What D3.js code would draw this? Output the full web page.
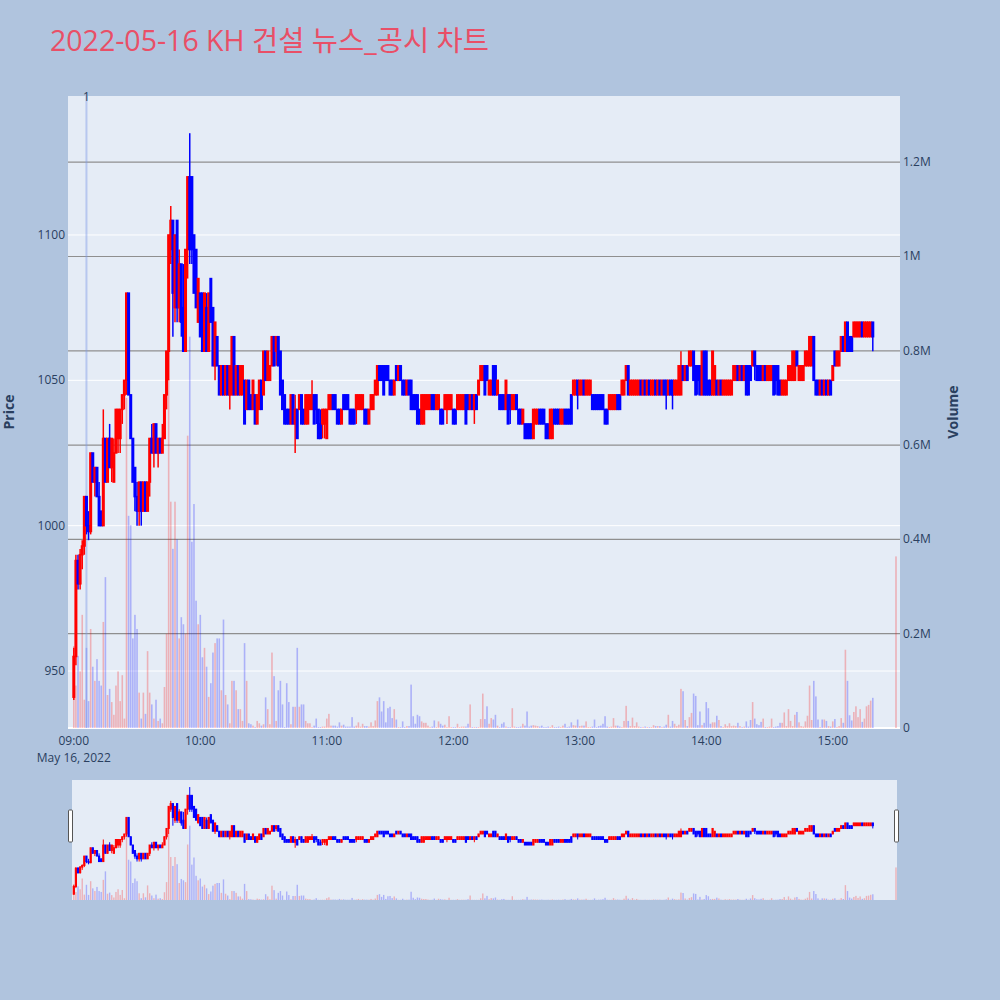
<!DOCTYPE html>
<html><head><meta charset="utf-8">
<script src="https://cdn.jsdelivr.net/npm/d3@7"></script>
<style>
body{margin:0;background:#b0c4de;}
svg{display:block;font-family:"Open Sans","Noto Sans CJK KR",sans-serif;}
</style>
</head><body>
<svg id="chart" width="1000" height="1000"></svg>
<script>
// ---------------- data ----------------
const titleText = "2022-05-16 KH 건설 뉴스_공시 차트";
const tradeDate = "2022-05-16";
const sessionStart = "09:00";          // first 1-minute candle; one candle per minute
const closingAuctionTime = "15:30";    // time of the last (closing auction) candle
const opens = [
941,955,988,980,990,993,1010,1000,998,1025,
1015,1020,1010,1005,1000,1030,1015,1030,1020,1015,
1025,1030,1030,1040,1045,1050,1080,1045,1030,1020,
1010,1005,1015,1005,1015,1005,1015,1030,1025,1035,
1025,1030,1025,1030,1045,1060,1095,1105,1075,1105,
1075,1090,1075,1060,1095,1120,1120,1100,1095,1070,
1080,1080,1060,1075,1060,1085,1075,1055,1065,1055,
1045,1055,1045,1055,1045,1045,1065,1045,1055,1045,
1045,1050,1040,1050,1045,1040,1045,1035,1040,1050,
1045,1060,1050,1050,1055,1065,1060,1065,1060,1050,
1045,1040,1040,1035,1045,1035,1040,1040,1045,1040,
1035,1035,1040,1040,1045,1045,1040,1035,1035,1035,
1030,1040,1040,1045,1045,1040,1040,1035,1045,1045,
1045,1040,1040,1040,1040,1040,1040,1040,1040,1040,
1035,1040,1040,1045,1045,1055,1055,1055,1055,1055,
1050,1050,1045,1055,1050,1055,1050,1050,1045,1050,
1050,1045,1045,1045,1040,1035,1035,1040,1040,1040,
1045,1045,1040,1040,1040,1040,1040,1040,1040,1040,
1040,1040,1040,1040,1040,1040,1045,1045,1040,1045,
1040,1045,1045,1050,1050,1055,1055,1045,1045,1055,
1055,1045,1045,1045,1045,1040,1045,1045,1040,1040,
1045,1040,1040,1035,1035,1035,1035,1035,1030,1035,
1035,1040,1040,1040,1035,1035,1030,1030,1040,1040,
1040,1035,1035,1040,1040,1040,1045,1045,1045,1050,
1045,1045,1050,1045,1045,1045,1045,1045,1045,1045,
1045,1045,1040,1040,1040,1040,1040,1040,1045,1045,
1045,1045,1050,1055,1045,1045,1045,1045,1045,1050,
1045,1050,1045,1050,1045,1045,1050,1045,1050,1045,
1050,1050,1045,1050,1050,1045,1045,1045,1045,1055,
1050,1055,1055,1055,1060,1055,1055,1055,1045,1060,
1060,1050,1050,1045,1045,1050,1045,1050,1045,1045,
1045,1045,1045,1050,1050,1055,1050,1055,1050,1055,
1055,1055,1055,1060,1055,1055,1055,1050,1055,1050,
1050,1050,1055,1055,1055,1050,1045,1045,1045,1050,
1050,1050,1050,1060,1050,1050,1050,1055,1055,1055,
1055,1065,1050,1050,1045,1050,1045,1050,1045,1050,
1050,1060,1055,1055,1060,1065,1060,1070,1065,1065,
1065,1065,1065,1065,1070,1065,1065,1065,1065,1070,
1080];
const highs = [
958,990,990,992,995,1010,1010,1005,1025,1025,
1020,1020,1015,1005,1040,1030,1030,1035,1030,1030,
1040,1040,1040,1045,1050,1080,1080,1045,1030,1020,
1015,1015,1015,1015,1015,1015,1030,1035,1035,1035,
1030,1030,1035,1045,1060,1100,1110,1105,1100,1105,
1095,1090,1090,1095,1120,1135,1120,1100,1095,1085,
1080,1080,1080,1080,1080,1085,1075,1070,1065,1055,
1055,1055,1055,1055,1055,1065,1065,1055,1055,1055,
1055,1050,1050,1050,1045,1050,1045,1045,1050,1050,
1060,1060,1060,1055,1065,1065,1065,1065,1060,1050,
1045,1040,1040,1045,1045,1045,1040,1045,1045,1040,
1045,1045,1045,1050,1045,1045,1040,1040,1040,1040,
1040,1045,1045,1045,1045,1040,1040,1040,1045,1045,
1045,1040,1040,1040,1045,1045,1045,1045,1040,1040,
1040,1045,1045,1050,1055,1055,1055,1055,1055,1055,
1050,1050,1050,1055,1055,1055,1050,1050,1050,1050,
1050,1045,1045,1045,1040,1045,1045,1045,1045,1045,
1045,1045,1045,1045,1040,1040,1045,1045,1045,1045,
1040,1040,1045,1045,1045,1045,1045,1045,1045,1045,
1045,1045,1050,1055,1055,1055,1055,1050,1050,1055,
1055,1050,1045,1045,1045,1050,1045,1045,1045,1045,
1045,1040,1040,1040,1035,1035,1035,1035,1040,1040,
1040,1040,1040,1040,1035,1035,1040,1040,1040,1040,
1040,1040,1040,1040,1040,1040,1045,1050,1050,1050,
1050,1050,1050,1050,1050,1050,1045,1045,1045,1045,
1045,1045,1040,1040,1045,1045,1045,1045,1045,1045,
1050,1050,1055,1055,1050,1050,1050,1050,1050,1050,
1050,1050,1050,1050,1050,1050,1050,1050,1050,1050,
1050,1050,1050,1050,1050,1050,1050,1055,1060,1055,
1055,1055,1060,1060,1060,1055,1055,1055,1060,1060,
1060,1050,1050,1060,1055,1050,1050,1050,1050,1050,
1050,1050,1050,1055,1055,1055,1055,1055,1055,1055,
1055,1055,1060,1060,1055,1055,1055,1055,1055,1055,
1055,1055,1055,1055,1055,1050,1050,1050,1050,1055,
1055,1060,1060,1060,1055,1055,1055,1060,1060,1065,
1065,1065,1050,1050,1050,1050,1050,1050,1050,1050,
1055,1060,1060,1060,1065,1065,1070,1070,1065,1065,
1070,1070,1070,1070,1070,1070,1070,1070,1070,1070,
1080];
const lows = [
940,952,978,978,985,990,997,995,997,1015,
1010,1010,1000,1000,1000,1015,1015,1020,1015,1015,
1025,1025,1025,1035,1040,1045,1045,1030,1015,1005,
1000,1000,1000,1005,1005,1005,1010,1025,1020,1025,
1020,1025,1025,1030,1040,1050,1090,1065,1070,1070,
1070,1065,1060,1060,1085,1090,1090,1080,1075,1070,
1065,1060,1060,1060,1060,1070,1055,1050,1055,1045,
1045,1045,1045,1045,1040,1045,1045,1045,1045,1045,
1045,1035,1040,1040,1040,1040,1035,1035,1040,1040,
1045,1050,1050,1050,1055,1055,1055,1055,1045,1040,
1035,1035,1035,1035,1035,1025,1030,1040,1035,1035,
1035,1035,1040,1040,1035,1035,1030,1030,1030,1030,
1030,1040,1040,1040,1040,1035,1035,1035,1040,1040,
1040,1035,1035,1035,1035,1040,1040,1040,1035,1035,
1035,1040,1040,1045,1045,1050,1050,1045,1050,1050,
1045,1045,1045,1050,1050,1050,1045,1045,1045,1045,
1040,1040,1040,1035,1035,1035,1035,1040,1040,1040,
1040,1040,1040,1040,1035,1035,1040,1035,1040,1040,
1035,1035,1040,1040,1040,1040,1035,1040,1040,1040,
1035,1040,1045,1050,1050,1045,1050,1045,1045,1045,
1045,1045,1040,1040,1040,1040,1035,1035,1040,1040,
1040,1035,1035,1035,1030,1030,1030,1030,1030,1035,
1035,1035,1035,1035,1030,1030,1030,1030,1035,1035,
1035,1035,1035,1035,1035,1035,1035,1045,1045,1040,
1045,1045,1045,1045,1045,1045,1040,1040,1040,1040,
1040,1040,1035,1035,1040,1040,1040,1040,1040,1040,
1045,1045,1050,1045,1045,1045,1045,1045,1045,1045,
1045,1045,1045,1045,1045,1045,1045,1045,1045,1045,
1045,1040,1045,1045,1040,1045,1045,1045,1045,1050,
1050,1050,1055,1055,1050,1045,1045,1045,1045,1045,
1045,1045,1045,1045,1045,1045,1045,1045,1045,1045,
1045,1045,1045,1050,1050,1050,1050,1050,1050,1045,
1045,1050,1055,1050,1050,1050,1050,1050,1050,1050,
1050,1050,1045,1045,1045,1045,1045,1045,1045,1050,
1050,1050,1050,1055,1050,1050,1050,1055,1055,1055,
1055,1050,1045,1045,1045,1045,1045,1045,1045,1045,
1050,1055,1055,1055,1060,1060,1060,1060,1060,1060,
1065,1065,1065,1065,1065,1065,1065,1065,1065,1060,
1080];
const closes = [
955,988,980,990,993,1010,1000,998,1025,1015,
1020,1010,1000,1000,1030,1015,1030,1020,1030,1025,
1040,1040,1040,1045,1050,1080,1045,1030,1015,1010,
1005,1015,1005,1015,1005,1015,1030,1025,1035,1025,
1030,1025,1030,1045,1060,1100,1105,1080,1100,1075,
1090,1070,1060,1095,1120,1095,1095,1080,1075,1085,
1065,1060,1080,1060,1080,1070,1055,1070,1055,1045,
1055,1045,1055,1045,1055,1065,1045,1055,1045,1055,
1055,1035,1050,1040,1040,1050,1035,1045,1050,1040,
1060,1050,1060,1055,1065,1055,1065,1055,1045,1040,
1035,1035,1035,1045,1035,1040,1030,1045,1035,1035,
1045,1045,1045,1045,1035,1040,1030,1030,1040,1040,
1040,1045,1045,1040,1040,1035,1035,1040,1040,1040,
1040,1035,1035,1035,1045,1045,1045,1045,1035,1035,
1040,1045,1045,1050,1055,1050,1050,1045,1050,1050,
1045,1045,1050,1050,1055,1050,1045,1045,1050,1045,
1040,1040,1040,1035,1035,1045,1045,1045,1045,1045,
1040,1040,1045,1045,1035,1035,1045,1045,1045,1045,
1035,1035,1045,1045,1045,1045,1035,1040,1045,1040,
1045,1040,1050,1055,1055,1045,1050,1050,1050,1045,
1045,1050,1040,1040,1040,1050,1035,1040,1045,1045,
1040,1035,1035,1040,1030,1030,1030,1030,1040,1040,
1040,1035,1035,1035,1030,1030,1040,1040,1035,1035,
1035,1040,1040,1035,1035,1035,1035,1050,1050,1045,
1050,1050,1045,1050,1050,1050,1040,1040,1040,1040,
1040,1040,1035,1035,1045,1045,1045,1045,1040,1040,
1050,1050,1055,1045,1050,1050,1050,1050,1050,1045,
1050,1045,1050,1045,1050,1050,1045,1050,1045,1050,
1045,1045,1050,1045,1045,1050,1050,1055,1055,1050,
1055,1050,1060,1060,1050,1045,1050,1045,1060,1045,
1045,1045,1045,1060,1055,1045,1050,1045,1050,1050,
1050,1050,1050,1055,1055,1050,1055,1050,1055,1045,
1045,1050,1060,1055,1050,1050,1050,1055,1050,1055,
1055,1055,1045,1050,1045,1045,1050,1050,1050,1055,
1055,1060,1060,1055,1055,1055,1055,1060,1060,1065,
1065,1050,1045,1045,1050,1045,1050,1045,1050,1045,
1055,1055,1060,1060,1065,1060,1070,1060,1060,1060,
1070,1070,1070,1070,1065,1070,1070,1070,1070,1065,
1080];
// volume in thousands of shares
const volumesK = [
174,90,153,120,240,60,170,57,210,130,
100,146,100,90,225,320,70,83,55,28,
90,120,57,112,20,700,450,430,190,240,
210,75,20,75,30,163,75,50,20,60,
15,20,10,87,200,740,480,380,480,400,
190,235,220,200,620,830,395,475,270,220,
240,150,170,130,66,95,160,180,190,190,
80,230,70,50,10,100,100,80,40,40,
15,180,100,10,8,5,2,15,10,5,
8,65,40,8,160,110,15,80,100,50,
2,95,55,8,45,45,170,45,50,50,
15,10,10,2,5,20,2,2,3,3,
20,30,5,5,5,3,12,5,7,3,
3,3,23,3,5,12,3,9,4,4,
3,12,4,16,57,65,35,57,12,42,
45,21,40,18,2,2,14,2,4,4,
92,25,9,28,25,14,11,11,5,2,
3,16,2,14,9,5,7,2,25,2,
2,2,9,2,3,3,3,9,50,2,
2,2,2,19,73,19,46,9,21,18,
28,5,2,9,12,3,2,2,42,3,
2,2,3,9,5,35,3,5,6,5,
4,3,5,2,2,3,2,6,2,2,
3,2,5,9,2,3,12,6,5,18,
4,5,5,14,2,2,3,18,2,4,
5,9,25,3,2,3,21,5,5,3,
2,15,47,15,4,22,4,12,3,2,
2,3,2,2,2,6,4,4,4,2,
3,7,28,3,15,9,4,7,83,78,
17,4,23,32,73,68,6,35,6,11,
55,42,9,12,12,26,17,4,2,8,
4,10,4,5,4,11,4,2,3,14,
3,17,55,20,8,6,13,20,2,2,
3,20,2,3,4,11,11,33,4,40,
15,4,28,34,12,4,3,14,26,90,
17,100,67,18,2,18,18,15,4,3,
14,19,2,4,21,11,166,100,27,16,
34,46,23,40,13,20,46,49,58,64,
364];
const priceTicks = [950, 1000, 1050, 1100];
const volumeTicks = [0, 200000, 400000, 600000, 800000, 1000000, 1200000];
const volumeTickLabels = ["0", "0.2M", "0.4M", "0.6M", "0.8M", "1M", "1.2M"];
const timeTicks = ["09:00", "10:00", "11:00", "12:00", "13:00", "14:00", "15:00"];
const dateLabel = "May 16, 2022";
const newsTimes = ["09:06"];
const newsLabels = ["1"];
const priceRange = [930.4, 1147.8];
const volumeRange = [0, 1340400];

// ---------------- layout ----------------
const W = 1000, H = 1000;
const L = 68, R = 900, T = 96, B = 728;
const sT = 780, sB = 900;
const INC = "#ff0000", DEC = "#0000ff";
const textColor = "#2a3f5f";

const parse = d3.timeParse("%Y-%m-%d %H:%M");
const start = parse(tradeDate + " " + sessionStart);
const closeT = parse(tradeDate + " " + closingAuctionTime);
const data = opens.map((o, i) => ({
  t: i < opens.length - 1 ? d3.timeMinute.offset(start, i) : closeT,
  o, h: highs[i], l: lows[i], c: closes[i], v: volumesK[i] * 1000
}));

const x = d3.scaleTime()
  .domain([d3.timeSecond.offset(start, -165), d3.timeSecond.offset(closeT, 114)])
  .range([L, R]);
const yP = d3.scaleLinear().domain(priceRange).range([B, T]);
const yV = d3.scaleLinear().domain(volumeRange).range([B, T]);
const yPs = d3.scaleLinear().domain(priceRange).range([sB, sT]);
const yVs = d3.scaleLinear().domain(volumeRange).range([sB, sT]);

const svg = d3.select("#chart");
svg.append("rect").attr("width", W).attr("height", H).attr("fill", "#b0c4de");

// title
svg.append("text").attr("x", 50).attr("y", 51)
  .attr("font-size", 28.5).attr("fill", "#e94f67").text(titleText);

// plot area
svg.append("rect").attr("x", L).attr("y", T).attr("width", R - L).attr("height", B - T).attr("fill", "#e5ecf6");

// price grid (white)
svg.append("g").selectAll("line").data(priceTicks).join("line")
  .attr("x1", L).attr("x2", R).attr("y1", d => yP(d)).attr("y2", d => yP(d))
  .attr("stroke", "#fff").attr("stroke-width", 1);
// volume grid (gray)
svg.append("g").selectAll("line").data(volumeTicks).join("line")
  .attr("x1", L).attr("x2", R).attr("y1", d => yV(d)).attr("y2", d => yV(d))
  .attr("stroke", d => d === 0 ? "#fff" : "#8f8f8f").attr("stroke-width", d => d === 0 ? 2 : 1.2);

const col = d => d.c >= d.o ? INC : DEC;

// volume bars
svg.append("g").selectAll("rect").data(data).join("rect")
  .attr("x", d => x(d.t) - 0.8).attr("width", 1.6)
  .attr("y", d => yV(d.v)).attr("height", d => B - yV(d.v))
  .attr("fill", col).attr("fill-opacity", 0.25);

// news line
const newsG = svg.append("g");
newsTimes.forEach((nt, k) => {
  const xx = x(parse(tradeDate + " " + nt));
  newsG.append("line").attr("x1", xx).attr("x2", xx).attr("y1", T).attr("y2", B)
    .attr("stroke", "#7f9ce6").attr("stroke-opacity", 0.45).attr("stroke-width", 2);
  newsG.append("text").attr("x", xx).attr("y", 101).attr("text-anchor", "middle")
    .attr("font-size", 12).attr("fill", textColor).text(newsLabels[k]);
});

// candles
const cg = svg.append("g");
cg.selectAll("line").data(data).join("line")
  .attr("x1", d => x(d.t)).attr("x2", d => x(d.t))
  .attr("y1", d => yP(d.h)).attr("y2", d => yP(d.l))
  .attr("stroke", col).attr("stroke-width", 1.5);
cg.selectAll("rect").data(data).join("rect")
  .attr("x", d => x(d.t) - 0.75).attr("width", 1.5)
  .attr("y", d => yP(Math.max(d.o, d.c)))
  .attr("height", d => Math.abs(yP(d.o) - yP(d.c)))
  .attr("fill", col).attr("stroke", col).attr("stroke-width", 1.5);

// axes labels
const ax = svg.append("g").attr("font-size", 12).attr("fill", textColor);
ax.selectAll(".pl").data(priceTicks).join("text").attr("class", "pl")
  .attr("x", 65).attr("y", d => yP(d) + 4).attr("text-anchor", "end").text(d => d);
ax.selectAll(".vl").data(volumeTicks).join("text").attr("class", "vl")
  .attr("x", 903).attr("y", d => yV(d) + 4).attr("text-anchor", "start").text((d, i) => volumeTickLabels[i]);
ax.selectAll(".tl").data(timeTicks).join("text").attr("class", "tl")
  .attr("x", d => x(parse(tradeDate + " " + d))).attr("y", 745).attr("text-anchor", "middle").text(d => d);
ax.append("text").attr("x", x(start)).attr("y", 762).attr("text-anchor", "middle").text(dateLabel);

svg.append("text").attr("transform", `translate(14,${(T + B) / 2}) rotate(-90)`)
  .attr("text-anchor", "middle").attr("font-size", 14).attr("font-weight", "bold").attr("fill", textColor).text("Price");
svg.append("text").attr("transform", `translate(958,${(T + B) / 2}) rotate(-90)`)
  .attr("text-anchor", "middle").attr("font-size", 14).attr("font-weight", "bold").attr("fill", textColor).text("Volume");

// range slider
const sg = svg.append("g");
sg.append("rect").attr("x", L + 4).attr("y", sT).attr("width", R - L - 7).attr("height", sB - sT).attr("fill", "#e5ecf6");
sg.selectAll(".sv").data(data).join("rect").attr("class", "sv")
  .attr("x", d => x(d.t) - 0.7).attr("width", 1.4)
  .attr("y", d => yVs(d.v)).attr("height", d => sB - yVs(d.v))
  .attr("fill", col).attr("fill-opacity", 0.25);
sg.selectAll(".sw").data(data).join("line").attr("class", "sw")
  .attr("x1", d => x(d.t)).attr("x2", d => x(d.t))
  .attr("y1", d => yPs(d.h)).attr("y2", d => yPs(d.l))
  .attr("stroke", col).attr("stroke-width", 1);
sg.selectAll(".sb").data(data).join("rect").attr("class", "sb")
  .attr("x", d => x(d.t) - 0.6).attr("width", 1.2)
  .attr("y", d => yPs(Math.max(d.o, d.c)))
  .attr("height", d => Math.abs(yPs(d.o) - yPs(d.c)))
  .attr("fill", col).attr("stroke", col).attr("stroke-width", 1);
[L + 2.5, R - 3.5].forEach(hx => {
  sg.append("rect").attr("x", hx - 2).attr("y", sT + 30).attr("width", 4).attr("height", 32)
    .attr("rx", 1).attr("fill", "#fff").attr("stroke", "#555").attr("stroke-width", 1);
});
</script>
</body></html>
